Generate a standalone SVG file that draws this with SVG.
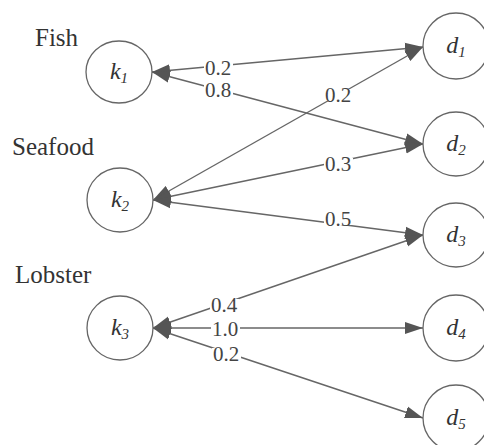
<svg xmlns="http://www.w3.org/2000/svg" width="484" height="445" viewBox="0 0 484 445">
<defs>
<marker id="ah" markerUnits="userSpaceOnUse" markerWidth="19" markerHeight="13" refX="18" refY="6" orient="auto-start-reverse" viewBox="0 0 19 12">
<path d="M0,0 L18,6 L0,12 z" fill="#555"/>
</marker>
<style>
.n{fill:#fff;stroke:#666;stroke-width:1.3}
.e{stroke:#666;stroke-width:1.4;fill:none;marker-start:url(#ah);marker-end:url(#ah)}
.nl{font-family:"Liberation Serif","Times New Roman",serif;font-style:italic;font-size:24px;fill:#333;text-anchor:middle}
.sub{font-size:15px}
.bg{fill:#fff}
.el{font-family:"Liberation Serif","Times New Roman",serif;font-size:21px;fill:#444;text-anchor:middle}
.gl{font-family:"Liberation Serif","Times New Roman",serif;font-size:25px;fill:#333}
</style>
</defs>
<rect width="484" height="445" fill="#fff"/>
<g id="connectors">
<line class="e" x1="152" y1="72" x2="423" y2="47"/>
<line class="e" x1="152" y1="72" x2="423" y2="144"/>
<line class="e" x1="153" y1="200" x2="423" y2="47"/>
<line class="e" x1="153" y1="200" x2="423" y2="144"/>
<line class="e" x1="153" y1="200" x2="423" y2="235"/>
<line class="e" x1="153" y1="328" x2="423" y2="235"/>
<line class="e" x1="153" y1="328" x2="423" y2="328"/>
<line class="e" x1="153" y1="328" x2="423" y2="418"/>
<rect class="bg" x="204" y="62" width="29" height="12"/>
<rect class="bg" x="204" y="84" width="29" height="12"/>
<rect class="bg" x="324" y="89" width="29" height="12"/>
<rect class="bg" x="324" y="158" width="29" height="12"/>
<rect class="bg" x="324" y="213" width="29" height="12"/>
<rect class="bg" x="210" y="299" width="29" height="12"/>
<rect class="bg" x="211" y="323" width="29" height="12"/>
<rect class="bg" x="212" y="348" width="29" height="12"/>
<text class="el" x="218" y="75">0.2</text>
<text class="el" x="218" y="97">0.8</text>
<text class="el" x="338" y="102">0.2</text>
<text class="el" x="338" y="171">0.3</text>
<text class="el" x="338" y="226">0.5</text>
<text class="el" x="224" y="312">0.4</text>
<text class="el" x="225" y="336">1.0</text>
<text class="el" x="226" y="361">0.2</text>
</g>
<g id="group-labels">
<text class="gl" x="35" y="46">Fish</text>
<text class="gl" x="12" y="155">Seafood</text>
<text class="gl" x="15" y="283">Lobster</text>
</g>
<g id="k1"><ellipse class="n" cx="119" cy="72" rx="33" ry="31"/><text class="nl" x="119" y="79">k<tspan class="sub" dy="4">1</tspan></text></g>
<g id="k2"><ellipse class="n" cx="120" cy="200" rx="33" ry="32"/><text class="nl" x="120" y="207">k<tspan class="sub" dy="4">2</tspan></text></g>
<g id="k3"><ellipse class="n" cx="120" cy="328" rx="33" ry="32"/><text class="nl" x="120" y="335">k<tspan class="sub" dy="4">3</tspan></text></g>
<g id="d1"><ellipse class="n" cx="456" cy="46" rx="33" ry="33"/><text class="nl" x="456" y="53">d<tspan class="sub" dy="4">1</tspan></text></g>
<g id="d2"><ellipse class="n" cx="456" cy="144" rx="33" ry="32"/><text class="nl" x="456" y="151">d<tspan class="sub" dy="4">2</tspan></text></g>
<g id="d3"><ellipse class="n" cx="456" cy="235" rx="33" ry="32"/><text class="nl" x="456" y="242">d<tspan class="sub" dy="4">3</tspan></text></g>
<g id="d4"><ellipse class="n" cx="456" cy="328" rx="33" ry="33"/><text class="nl" x="456" y="335">d<tspan class="sub" dy="4">4</tspan></text></g>
<g id="d5"><ellipse class="n" cx="456" cy="418" rx="33" ry="33"/><text class="nl" x="456" y="425">d<tspan class="sub" dy="4">5</tspan></text></g>
</svg>
